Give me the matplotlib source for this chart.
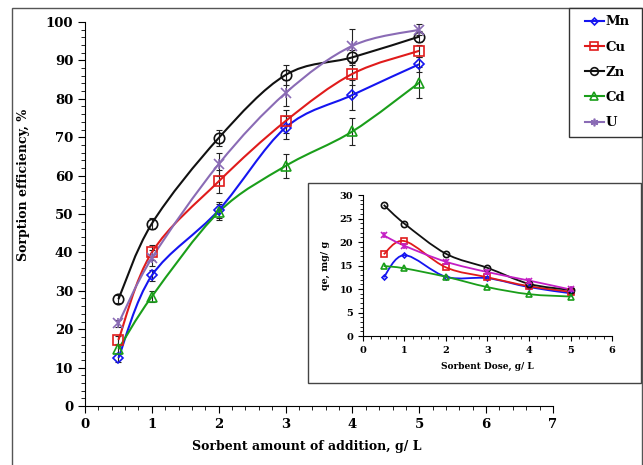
import numpy as np
import matplotlib
matplotlib.use("Agg")
import matplotlib.pyplot as plt
from matplotlib.path import Path
from matplotlib.patches import PathPatch, Rectangle
from matplotlib.lines import Line2D
from matplotlib.ticker import MultipleLocator

plt.rcParams['font.family'] = 'DejaVu Serif'
plt.rcParams['font.weight'] = 'bold'

# sorbent dose, g/L
dose = [0.5, 1, 2, 3, 4, 5]
metals = ['Mn', 'Cu', 'Zn', 'Cd', 'U']

# sorption efficiency, %
eff_mn = [12.5, 34.0, 51.0, 72.5, 81.0, 89.0]
eff_cu = [17.2, 40.0, 58.5, 74.2, 86.5, 92.5]
eff_zn = [27.8, 47.5, 69.8, 86.2, 90.8, 96.2]
eff_cd = [14.8, 28.5, 50.5, 62.5, 71.5, 84.2]
eff_u = [21.5, 38.5, 63.0, 81.5, 93.8, 98.0]

# standard deviations
err_mn = [1.0, 1.5, 2.0, 3.0, 4.0, 2.0]
err_cu = [1.0, 2.0, 3.0, 3.0, 3.0, 1.5]
err_zn = [1.0, 1.5, 2.0, 2.5, 2.0, 1.5]
err_cd = [1.0, 1.5, 2.0, 3.0, 3.5, 4.0]
err_u = [1.0, 2.0, 3.0, 3.5, 4.5, 1.5]

# uptake capacity qe, mg/g
qe_mn = [12.5, 17.2, 12.6, 12.3, 10.4, 9.1]
qe_cu = [17.4, 20.2, 14.6, 12.5, 10.6, 9.4]
qe_zn = [27.9, 23.9, 17.5, 14.5, 11.1, 9.8]
qe_cd = [14.9, 14.4, 12.6, 10.4, 8.9, 8.4]
qe_u = [21.4, 19.2, 15.8, 13.6, 11.8, 9.9]

eff = [eff_mn, eff_cu, eff_zn, eff_cd, eff_u]
err = [err_mn, err_cu, err_zn, err_cd, err_u]
qe = [qe_mn, qe_cu, qe_zn, qe_cd, qe_u]

colors = ['#1515f0', '#e01b1b', '#111111', '#1a9e1a', '#8a6bb5']
inset_colors = ['#1515f0', '#e01b1b', '#111111', '#1a9e1a', '#c41fc4']
markers = ['D', 's', 'o', '^', 'x']
msizes = [5.5, 7.5, 7.5, 7.5, 7.5]


def smooth_path(xs, ys):
    # Excel-style smoothed line: cubic Bezier segments through each point
    pts = np.column_stack([xs, ys]).astype(float)
    n = len(pts)
    verts = [pts[0]]
    codes = [Path.MOVETO]
    for i in range(n - 1):
        p0 = pts[max(i - 1, 0)]
        p1 = pts[i]
        p2 = pts[i + 1]
        p3 = pts[min(i + 2, n - 1)]
        c1 = p1 + (p2 - p0) / 6.0
        c2 = p2 - (p3 - p1) / 6.0
        verts += [c1, c2, p2]
        codes += [Path.CURVE4] * 3
    return Path(verts, codes)


def draw_series(ax, x, y, color, marker, ms, lw, yerr=None):
    ax.add_patch(PathPatch(smooth_path(x, y), facecolor='none', edgecolor=color, lw=lw, zorder=3))
    if yerr is not None:
        ax.errorbar(x, y, yerr=yerr, fmt='none', ecolor='#222222', elinewidth=0.8, capsize=2, capthick=0.8, zorder=2)
    ax.plot(x, y, ls='none', marker=marker, ms=ms, mfc='none', mec=color, mew=1.2, zorder=4)
    if marker == 'x':
        ax.plot(x, y, ls='none', marker='|', ms=ms, mec=color, mew=1.2, zorder=4)


fig = plt.figure(figsize=(6.43, 4.65), dpi=100)
fig.patches.append(Rectangle((0.0187, -0.02), 0.98, 1.0028, transform=fig.transFigure,
                             fill=False, edgecolor='#555555', lw=1.0, zorder=0))

ax = fig.add_axes([0.1322, 0.1269, 0.7278, 0.8258])
for i in range(len(metals)):
    draw_series(ax, dose, eff[i], colors[i], markers[i], msizes[i], 1.5, yerr=err[i])
ax.set_xlim(0, 7)
ax.set_ylim(0, 100)
ax.xaxis.set_major_locator(MultipleLocator(1))
ax.xaxis.set_minor_locator(MultipleLocator(0.2))
ax.yaxis.set_major_locator(MultipleLocator(10))
ax.yaxis.set_minor_locator(MultipleLocator(2))
ax.spines['top'].set_visible(False)
ax.spines['right'].set_visible(False)
ax.tick_params(which='both', direction='out', labelsize=9.5)
ax.tick_params(which='major', length=5)
ax.tick_params(which='minor', length=3)
ax.set_xlabel('Sorbent amount of addition, g/ L', fontsize=9, fontweight='bold')
ax.set_ylabel('Sorption efficiency, %', fontsize=9, fontweight='bold')
ax.xaxis.set_label_coords(0.474, -0.088)
ax.yaxis.set_label_coords(-0.117, 0.575)

# legend box in the top right corner
fig.patches.append(Rectangle((569 / 643, 1 - 137 / 465), 73 / 643, 129 / 465, transform=fig.transFigure,
                             facecolor='white', edgecolor='#333333', lw=1.0, zorder=5))
handles = []
for i in range(len(metals)):
    handles.append(Line2D([], [], color=colors[i], lw=1.5, marker=markers[i] if markers[i] != 'x' else (6, 2, 0),
                          ms=msizes[i] - 2, mfc='none', mec=colors[i], mew=1.2))
leg = fig.legend(handles, metals, loc='upper left', bbox_to_anchor=(578 / 643, 1 - 8 / 465), fontsize=9.5,
                 handlelength=1.4, handletextpad=0.15, labelspacing=0.93, borderpad=0.55,
                 borderaxespad=0, frameon=False)
leg.set_zorder(6)
for t in leg.get_texts():
    t.set_fontweight('bold')

# inset panel
fig.patches.append(Rectangle((0.479, 0.1763), 0.518, 0.430, transform=fig.transFigure,
                             facecolor='white', edgecolor='#444444', lw=1.0, zorder=5))
ins = fig.add_axes([0.5645, 0.2774, 0.3873, 0.3032])
ins.set_zorder(6)
for i in range(len(metals)):
    draw_series(ins, dose, qe[i], inset_colors[i], markers[i], msizes[i] - 3, 1.3)
ins.set_xlim(0, 6)
ins.set_ylim(0, 30)
ins.xaxis.set_major_locator(MultipleLocator(1))
ins.xaxis.set_minor_locator(MultipleLocator(0.2))
ins.yaxis.set_major_locator(MultipleLocator(5))
ins.yaxis.set_minor_locator(MultipleLocator(1))
ins.spines['top'].set_visible(False)
ins.spines['right'].set_visible(False)
ins.tick_params(which='both', direction='out', labelsize=7)
ins.tick_params(which='major', length=3.5)
ins.tick_params(which='minor', length=2)
ins.set_xlabel('Sorbent Dose, g/ L', fontsize=6.5, fontweight='bold', labelpad=5)
ins.set_ylabel('qe, mg/ g', fontsize=6.8, fontweight='bold', labelpad=7)

fig.savefig('out.png', dpi=100)
